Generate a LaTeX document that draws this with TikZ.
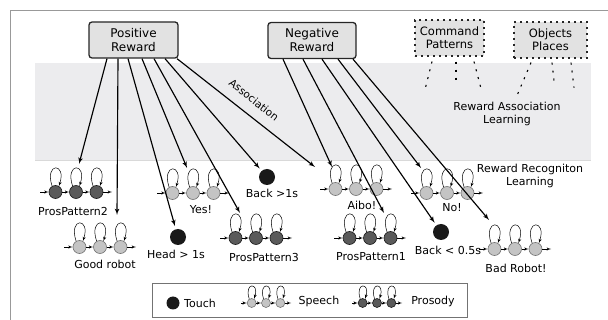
\documentclass[tikz,border=0pt]{standalone}
\usepackage{fontspec}
\setmainfont{DejaVu Sans}
\usetikzlibrary{arrows}
\usetikzlibrary{calc}
\usepackage{xcolor}

\definecolor{bandgray}{HTML}{ECECEE}
\definecolor{boxgray}{HTML}{E2E2E2}
\definecolor{lightstate}{HTML}{C4C4C4}
\definecolor{darkstate}{HTML}{5A5A5A}

\tikzset{
  rewardbox/.style={draw=black!85, fill=boxgray, line width=1.3pt, rounded corners=3pt,
    minimum width=89pt, minimum height=36pt, align=center, inner sep=0pt,
    font=\fontsize{12}{14}\selectfont},
  cuebox/.style={draw=black!85, fill=boxgray, line width=1.2pt, dash pattern=on 2pt off 4pt,
    minimum height=36pt, align=center, inner sep=0pt, font=\fontsize{11.5}{13}\selectfont},
  lightst/.style={circle, draw=black!55, fill=lightstate, line width=.6pt, minimum size=13pt, inner sep=0pt},
  darkst/.style={circle, draw=black!90, fill=darkstate, line width=.6pt, minimum size=13pt, inner sep=0pt},
  lightsm/.style={lightst, minimum size=9pt},
  darksm/.style={darkst, minimum size=9pt},
  touch/.style={circle, fill=black!90, minimum size=16pt, inner sep=0pt},
  tiny/.style={->, >=latex', line width=.5pt},
  assoc/.style={->, >=latex', line width=1.15pt},
  lbl/.style={font=\fontsize{11}{13}\selectfont, inner sep=0pt, align=center},
  cueline/.style={line width=1.1pt, dash pattern=on 2pt off 6pt},
  pics/chain/.style={code={
    \foreach \i in {0,1,2} {
      \node[#1] (-s\i) at ({(\i-1)*20.5},0) {};
      \draw[tiny] (-s\i.120) .. controls +(-8,24) and +(8,24) .. (-s\i.60);
    }
    \coordinate (-in) at (-36,0);
    \coordinate (-out) at (36,0);
    \draw[tiny] (-in) -- (-s0);
    \draw[tiny] (-s0) -- (-s1);
    \draw[tiny] (-s1) -- (-s2);
    \draw[tiny] (-s2) -- (-out);
  }}
}

\begin{document}
\begin{tikzpicture}[x=1pt,y=1pt]
\useasboundingbox (0,0) rectangle (608,-320);
\draw[black!40, line width=.8pt] (10,-320) -- (10,-10) -- (608,-10);
\fill[bandgray] (35,-63) rectangle (591,-160);
\draw[black!15, line width=.8pt] (35,-160) -- (591,-160);

\node[rewardbox] (pos) at (133.5,-40) {Positive\\Reward};
\node[rewardbox, minimum width=88pt] (neg) at (312,-40.5) {Negative\\Reward};
\node[cuebox, minimum width=69pt] (cmd) at (449.5,-38) {Command\\Patterns};
\node[cuebox, minimum width=73pt] (obj) at (550.5,-40) {Objects\\Places};

\draw[cueline] ([xshift=-17.5pt,yshift=-5pt]cmd.south) -- ++(-7,-28);
\draw[cueline] ([xshift=6.5pt,yshift=-5pt]cmd.south) -- ++(0,-19);
\draw[cueline] ([xshift=24.5pt,yshift=-5pt]cmd.south) -- ++(7,-27);
\draw[cueline] ([xshift=-19.5pt,yshift=-4pt]obj.south) -- ++(-14,-33);
\draw[cueline] ([xshift=1.5pt,yshift=-4pt]obj.south) -- ++(2,-18);
\draw[cueline] ([xshift=20.5pt,yshift=-4pt]obj.south) -- ++(3,-25);

\node[lbl, font=\fontsize{11}{12.5}\selectfont] (ral) at (507,-114) {Reward Association\\Learning};
\node[lbl, font=\fontsize{11}{13}\selectfont] (rrl) at (530,-175.5) {Reward Recogniton\\Learning};
\node[lbl, font=\fontsize{10.5}{12}\selectfont, rotate=-38.5] (assoctxt) at (254,-100) {Association};

% speech and prosody models
\pic (pp2) at (76,-192) {chain=darkst};
\pic (good) at (100,-247) {chain=lightst};
\pic (yes) at (193,-193) {chain=lightst};
\pic (pp3) at (256,-238) {chain=darkst};
\pic (aibo) at (356,-189) {chain=lightst};
\pic (pp1) at (370,-238) {chain=darkst};
\pic (no) at (447,-193) {chain=lightst};
\pic (bad) at (515,-249) {chain=lightst};

\node[touch] (head) at (178,-237) {};
\node[touch] (back1) at (267,-177) {};
\node[touch] (back05) at (441,-232) {};

\node[lbl] (pp2-lbl) at (73,-211) {ProsPattern2};
\node[lbl] (good-lbl) at (105,-264) {Good robot};
\node[lbl] (yes-lbl) at (201,-210) {Yes!};
\node[lbl] (head-lbl) at (176,-254) {Head > 1s};
\node[lbl] (back1-lbl) at (272,-193) {Back >1s};
\node[lbl] (pp3-lbl) at (264,-257) {ProsPattern3};
\node[lbl] (aibo-lbl) at (362,-205) {Aibo!};
\node[lbl] (pp1-lbl) at (371,-257) {ProsPattern1};
\node[lbl] (no-lbl) at (452,-208) {No!};
\node[lbl] (back05-lbl) at (448,-250) {Back < 0.5s};
\node[lbl] (bad-lbl) at (516,-268) {Bad Robot!};

\coordinate (pp2-tip) at (79,-164);
\coordinate (good-tip) at (117,-215);
\coordinate (yes-tip) at (187,-168);
\coordinate (pp3-tip) at (240,-213);
\coordinate (aibo-tip) at (315,-167);
\coordinate (aibo-tip2) at (332,-167);
\coordinate (pp1-tip) at (384,-213);
\coordinate (no-tip) at (421,-168);
\coordinate (bad-tip) at (489,-220);

\draw[assoc] ([xshift=-26.5pt]pos.south) -- (pp2-tip);
\draw[assoc] ([xshift=-15.5pt]pos.south) -- (good-tip);
\draw[assoc, shorten >=3pt] ([xshift=-5.5pt]pos.south) -- (head);
\draw[assoc] ([xshift=8.5pt]pos.south) -- (yes-tip);
\draw[assoc] ([xshift=20.5pt]pos.south) -- (pp3-tip);
\draw[assoc, shorten >=3pt] ([xshift=31.5pt]pos.south) -- (back1);
\draw[assoc] ([xshift=43.5pt]pos.south) -- (aibo-tip);

\draw[assoc] ([xshift=-29pt]neg.south) -- (aibo-tip2);
\draw[assoc] ([xshift=-9pt]neg.south) -- (pp1-tip);
\draw[assoc, shorten >=3pt] ([xshift=10pt]neg.south) -- (back05);
\draw[assoc] ([xshift=26pt]neg.south) -- (no-tip);
\draw[assoc] ([xshift=41pt]neg.south) -- (bad-tip);

% legend
\node[draw=black!55, line width=.9pt, minimum width=315pt, minimum height=34pt, inner sep=0pt] (legend) at (309.5,-300) {};
\node[touch, minimum size=13pt] (lg-touch) at (173,-303) {};
\node[lbl] (lg-touch-lbl) at (200,-303) {Touch};
\pic[scale=.7] (lg-sp) at (266,-303) {chain=lightsm};
\node[lbl] (lg-sp-lbl) at (319,-301) {Speech};
\pic[scale=.7] (lg-pr) at (377,-303) {chain=darksm};
\node[lbl] (lg-pr-lbl) at (433,-301) {Prosody};
\end{tikzpicture}
\end{document}
